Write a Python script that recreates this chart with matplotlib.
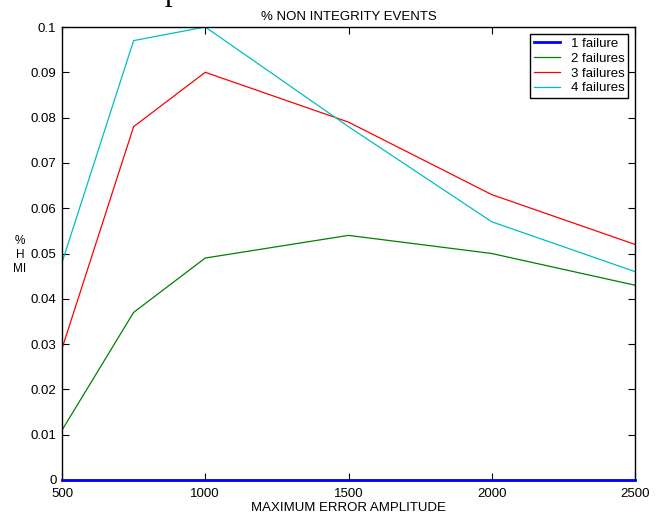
import matplotlib
matplotlib.use('Agg')
import matplotlib.pyplot as plt

plt.rcParams['font.family'] = ['Liberation Sans', 'DejaVu Sans']

# maximum error amplitude
amplitude = [500, 750, 1000, 1500, 2000, 2500]

# % HMI for each number of failures
fail_1 = [0, 0, 0, 0, 0, 0]
fail_2 = [0.011, 0.037, 0.049, 0.054, 0.050, 0.043]
fail_3 = [0.029, 0.078, 0.090, 0.079, 0.063, 0.052]
fail_4 = [0.048, 0.097, 0.100, 0.078, 0.057, 0.046]

xticks = [500, 1000, 1500, 2000, 2500]
yticks = [0, 0.01, 0.02, 0.03, 0.04, 0.05, 0.06, 0.07, 0.08, 0.09, 0.1]
ytick_labels = ['0', '0.01', '0.02', '0.03', '0.04', '0.05', '0.06', '0.07', '0.08', '0.09', '0.1']

fig = plt.figure(figsize=(6.68, 5.14), dpi=100)
ax = fig.add_axes([62/668, 1 - 480/514, 573/668, 453/514])

ax.plot(amplitude, fail_1, color='#0000ff', lw=2.0, label='1 failure', zorder=5, clip_on=False)
ax.plot(amplitude, fail_2, color='#008000', lw=0.9, label='2 failures')
ax.plot(amplitude, fail_3, color='#ff0000', lw=0.9, label='3 failures')
ax.plot(amplitude, fail_4, color='#00bfbf', lw=0.9, label='4 failures')

ax.set_xlim(500, 2500)
ax.set_ylim(0, 0.1)
ax.set_xticks(xticks)
ax.set_yticks(yticks)
ax.set_yticklabels(ytick_labels)
ax.tick_params(direction='in', length=5, width=0.8, labelsize=9.5,
               top=True, right=True)
ax.tick_params(axis='x', pad=6)
ax.tick_params(axis='y', pad=4)
for s in ax.spines.values():
    s.set_linewidth(1.0)

ax.set_title('% NON INTEGRITY EVENTS', fontsize=9.5, pad=5)
ax.set_xlabel('MAXIMUM ERROR AMPLITUDE', fontsize=9.5, labelpad=1)
fig.text(20/668, 1 - 255/514, '%\nH\nMI', fontsize=8.5, ha='center', va='center',
         linespacing=1.25)

leg = ax.legend(loc='upper right', fontsize=9.5, fancybox=False, framealpha=1,
                edgecolor='black', borderaxespad=0.5, handlelength=2.0,
                handletextpad=0.8, labelspacing=0.2, borderpad=0.3)
leg.get_frame().set_linewidth(1.0)

# fragment of the page text cut off at the top
fig.text(172/668, 1.0, 'p', fontsize=22, family='Liberation Serif',
         ha='center', va='baseline')

fig.savefig('out.png', dpi=100)
